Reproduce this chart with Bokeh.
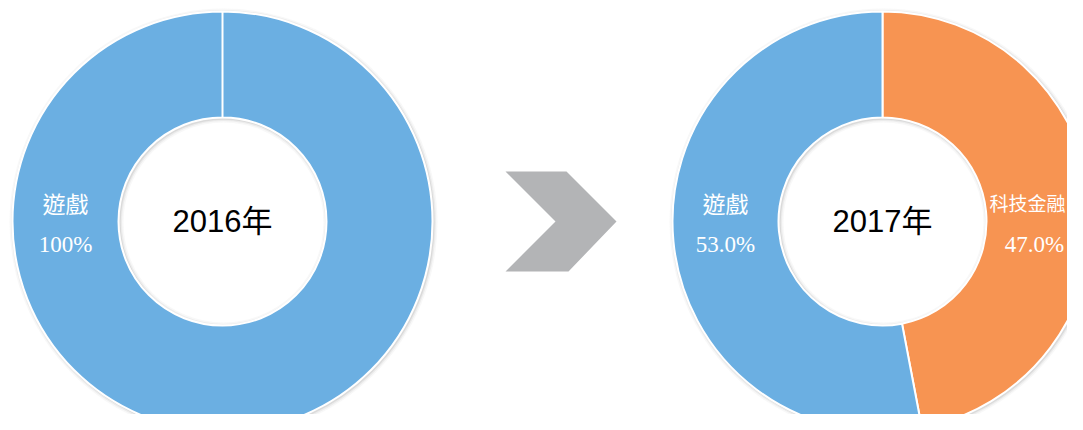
import math
from bokeh.plotting import figure
from bokeh.models import Range1d
from bokeh.core.properties import value
from bokeh.embed import file_html
from bokeh.resources import INLINE

# ---- data ----
years = ["2016年", "2017年"]
cats_2016 = ["遊戲"]
vals_2016 = [100.0]
labels_2016 = ["100%"]
cats_2017 = ["科技金融", "遊戲"]      # drawn clockwise from 12 o'clock
vals_2017 = [47.0, 53.0]
labels_2017 = ["47.0%", "53.0%"]
colors = {"遊戲": "#6BAFE2", "科技金融": "#F79452"}

W, H = 1067, 414
p = figure(width=W, height=H, output_backend="svg", toolbar_location=None,
           x_range=Range1d(0, W), y_range=Range1d(430 - H, 430),
           min_border=0)
p.axis.visible = False
p.grid.visible = False
p.outline_line_color = None
p.background_fill_color = "white"

R_OUT, R_IN = 210, 104
centers = [(222, 430 - 221), (882, 430 - 221)]

def donut(cx, cy, cats, vals, labels, title):
    # soft shadow
    for d, a in [(4, 0.06), (2.5, 0.10), (1.2, 0.18)]:
        p.annulus(x=[cx + 1], y=[cy - 1], inner_radius=R_IN - d, outer_radius=R_OUT + d,
                  fill_color="#888888", fill_alpha=a, line_color=None)
    total = sum(vals)
    start = math.pi / 2
    for c, v, lab in zip(cats, vals, labels):
        sweep = v / total * 2 * math.pi
        end = start - sweep
        p.annular_wedge(x=[cx], y=[cy], inner_radius=R_IN, outer_radius=R_OUT,
                        start_angle=start, end_angle=end, direction="clock",
                        fill_color=colors[c], line_color="white", line_width=2)
        mid = (start + end) / 2
        rm = (R_IN + R_OUT) / 2
        side = 1 if math.cos(mid) >= 0 else -1
        if len(vals) == 1:
            side = -1
        lx = cx + side * rm
        fs = "23px" if len(c) <= 2 else "19px"
        cxl = lx if len(c) <= 2 else min(lx, W - 40)
        p.text(x=[cxl], y=[430 - 202], text=[c], text_align="center", text_baseline="middle",
               text_color="white", text_font_size=fs,
               text_font=value("Noto Sans CJK TC"))
        p.text(x=[lx - (5 if side > 0 else 0)], y=[430 - 244], text=[lab], text_align="center",
               text_baseline="middle", text_color="white", text_font_size="23px",
               text_font=value("Liberation Serif"))
        start = end
    p.text(x=[cx], y=[cy], text=[title], text_align="center", text_baseline="middle",
           text_color="black", text_font_size="31px",
           text_font=value("Liberation Sans, Noto Sans CJK TC"))

donut(centers[0][0], centers[0][1], cats_2016, vals_2016, labels_2016, years[0])
donut(centers[1][0], centers[1][1], cats_2017, vals_2017, labels_2017, years[1])

# chevron arrow
cxs = [505, 566, 616, 568, 505, 555]
cys = [171, 171, 221, 271, 271, 221]
p.patch(x=cxs, y=[430 - v for v in cys], fill_color="#B3B4B6", line_color=None)

open("out.html", "w").write(file_html(p, INLINE))
